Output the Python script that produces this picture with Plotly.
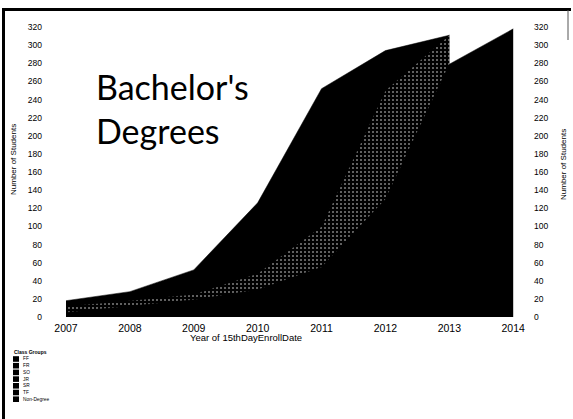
import plotly.graph_objects as go

# ---- data ----
years = [2007, 2008, 2009, 2010, 2011, 2012, 2013, 2014]
lower_series = [5, 12, 19, 30, 55, 130, 279, 318]          # black, bottom
dotted_series = [7, 6, 6, 18, 45, 120, 32, None]           # dotted band
upper_series = [6, 10, 27, 78, 152, 44, 0, None]           # black, top
y_ticks = list(range(0, 321, 20))
legend_labels = ["FF", "FR", "SO", "JR", "SR", "TF", "Non-Degree"]
legend_title = "Class Groups"
chart_title = "Bachelor's<br>Degrees"
x_title = "Year of 15thDayEnrollDate"
y_title = "Number of Students"

# cumulative stacks
def cum(*arrs):
    out = []
    for vals in zip(*arrs):
        if any(v is None for v in vals):
            out.append(None)
        else:
            out.append(sum(vals))
    return out

lower_top = lower_series
dotted_top = cum(lower_series, dotted_series)
upper_top = cum(lower_series, dotted_series, upper_series)

# ---- layout geometry ----
W, H = 573, 419
L, R, T, B = 43, 533, 18, 320

def pxx(px):
    return (px - L) / (R - L)

def pxy(py):
    return (B - py) / (B - T)

fig = go.Figure()

fig.add_trace(go.Scatter(
    x=years, y=upper_top, mode="lines", fill="tozeroy",
    line=dict(color="black", width=0.5), fillcolor="black",
    name="upper", showlegend=False, hoverinfo="skip"))
fig.add_trace(go.Scatter(
    x=years, y=dotted_top, mode="lines", fill="tozeroy",
    line=dict(color="black", width=0.5), fillcolor="black",
    fillpattern=dict(shape=".", bgcolor="black", fgcolor="white",
                     size=4, solidity=0.2),
    name="dotted", showlegend=False, hoverinfo="skip"))
fig.add_trace(go.Scatter(
    x=years, y=lower_top, mode="lines", fill="tozeroy",
    line=dict(color="black", width=0.5), fillcolor="black",
    name="lower", showlegend=False, hoverinfo="skip"))
# invisible trace for right axis
fig.add_trace(go.Scatter(
    x=[years[0]], y=[0], yaxis="y2", mode="markers",
    marker=dict(opacity=0), showlegend=False, hoverinfo="skip"))

tick_font = dict(family="Liberation Sans, Arial", size=8.5, color="black")

annotations = [
    dict(text=chart_title, x=pxx(94), y=pxy(64), xref="paper", yref="paper",
         xanchor="left", yanchor="top", showarrow=False, align="left",
         font=dict(family="Lato", size=34, color="black")),
    dict(text=x_title, x=pxx(246), y=pxy(337), xref="paper", yref="paper",
         xanchor="center", yanchor="middle", showarrow=False,
         font=dict(family="Liberation Sans, Arial", size=9.5, color="black")),
    dict(text=y_title, x=pxx(13), y=pxy(160), xref="paper", yref="paper",
         xanchor="center", yanchor="middle", showarrow=False, textangle=-90,
         font=dict(family="Liberation Sans, Arial", size=8, color="black")),
    dict(text=y_title, x=pxx(563), y=pxy(165), xref="paper", yref="paper",
         xanchor="center", yanchor="middle", showarrow=False, textangle=-90,
         font=dict(family="Liberation Sans, Arial", size=8, color="black")),
    dict(text="<b>" + legend_title + "</b>", x=pxx(12), y=pxy(352),
         xref="paper", yref="paper", xanchor="left", yanchor="middle",
         showarrow=False,
         font=dict(family="Liberation Sans, Arial", size=5, color="black")),
]

shapes = []
for i, lab in enumerate(legend_labels):
    cy = 359 + i * 6.7
    shapes.append(dict(type="rect", xref="paper", yref="paper",
                       x0=pxx(13), x1=pxx(19), y0=pxy(cy + 2.8), y1=pxy(cy - 2.8),
                       fillcolor="black", line=dict(width=0)))
    annotations.append(dict(text=lab, x=pxx(21), y=pxy(cy), xref="paper",
                            yref="paper", xanchor="left", yanchor="middle",
                            showarrow=False,
                            font=dict(family="Liberation Sans, Arial", size=4.8,
                                      color="black")))

# scan frame
shapes += [
    dict(type="line", xref="paper", yref="paper", x0=pxx(2), x1=pxx(571),
         y0=pxy(9.5), y1=pxy(9.5), line=dict(color="black", width=3)),
    dict(type="line", xref="paper", yref="paper", x0=pxx(3.5), x1=pxx(3.5),
         y0=pxy(9), y1=pxy(419), line=dict(color="black", width=3)),
    dict(type="line", xref="paper", yref="paper", x0=pxx(568), x1=pxx(568),
         y0=pxy(10), y1=pxy(40), line=dict(color="#555", width=1)),
]

fig.update_layout(
    width=W, height=H,
    margin=dict(l=L, r=W - R, t=T, b=H - B, autoexpand=False),
    paper_bgcolor="white", plot_bgcolor="white",
    showlegend=False,
    xaxis=dict(range=[2006.64, 2014.31], tickvals=years,
               ticktext=[str(y) for y in years], automargin=False,
               showgrid=False, zeroline=False, showline=False, ticks="",
               tickfont=dict(family="Liberation Sans, Arial", size=10.5,
                             color="black")),
    yaxis=dict(range=[-3.3, 330], tickvals=y_ticks, showgrid=False,
               automargin=False,
               zeroline=False, showline=False, ticks="", tickfont=tick_font),
    yaxis2=dict(range=[-3.3, 330], tickvals=y_ticks, overlaying="y",
                side="right", showgrid=False, zeroline=False, showline=False,
                automargin=False,
                ticks="", tickfont=tick_font),
    annotations=annotations,
    shapes=shapes,
)

fig.write_html("out.html",
               config={"displayModeBar": False},
               post_script="document.body.style.margin='0';"
                           "document.body.style.padding='0';"
                           "document.body.style.overflow='hidden';")
